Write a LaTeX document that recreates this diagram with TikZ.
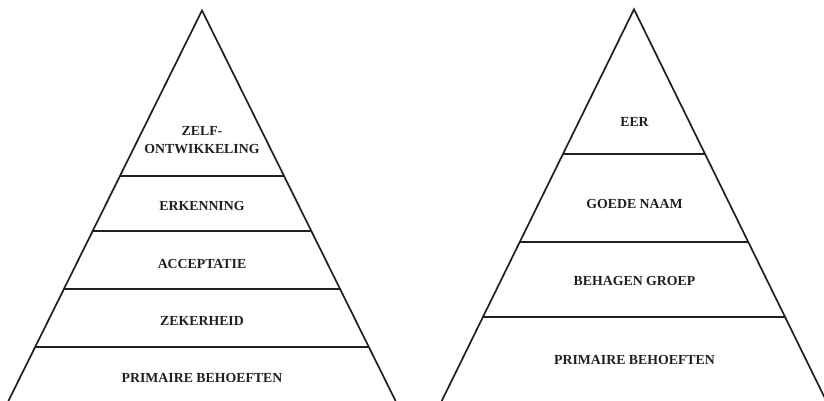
\documentclass[tikz,border=0pt]{standalone}
\usepackage{fontspec}
\setmainfont{Liberation Serif}
\usetikzlibrary{calc}
\definecolor{ink}{HTML}{231F20}
\tikzset{
  side/.style={draw=ink, line width=1.7pt, line join=miter},
  divider/.style={draw=ink, line width=1.9pt},
  lbl/.style={anchor=base, inner sep=0pt, text=ink, font=\fontsize{13.8}{18.3}\selectfont\bfseries, align=center}
}
\begin{document}
\begin{tikzpicture}[x=1pt,y=-1pt]
\useasboundingbox (0,0) rectangle (824,401);
% left pyramid
\coordinate (LA) at (202,10.5);
\coordinate (LBL) at (8.4,401);
\coordinate (LBR) at (395.6,401);
\draw[side] (LBL) -- (LA) -- (LBR);
\foreach \n/\yy in {1/176,2/231,3/289,4/347.3}{
  \coordinate (Ll\n) at ($(LA)!{(\yy-10.5)/390.5}!(LBL)$);
  \coordinate (Lr\n) at ($(LA)!{(\yy-10.5)/390.5}!(LBR)$);
}
\draw[divider] (Ll1) -- (Lr1);
\draw[divider] (Ll2) -- (Lr2);
\draw[divider] (Ll3) -- (Lr3);
\draw[divider] (Ll4) -- (Lr4);
\node[lbl] (zelf) at (202,153.6) {ZELF-\\ONTWIKKELING};
\node[lbl] (erk) at (202,210.5) {ERKENNING};
\node[lbl] (acc) at (202,268.4) {ACCEPTATIE};
\node[lbl] (zek) at (202,325.4) {ZEKERHEID};
\node[lbl] (prl) at (202,382.4) {PRIMAIRE BEHOEFTEN};
% right pyramid
\coordinate (RA) at (634,9.3);
\coordinate (RBL) at (441.7,401);
\coordinate (RBR) at (826.3,401);
\draw[side] (RBL) -- (RA) -- (RBR);
\foreach \n/\yy in {1/154.3,2/241.7,3/316.7}{
  \coordinate (Rl\n) at ($(RA)!{(\yy-9.3)/391.7}!(RBL)$);
  \coordinate (Rr\n) at ($(RA)!{(\yy-9.3)/391.7}!(RBR)$);
}
\draw[divider] (Rl1) -- (Rr1);
\draw[divider] (Rl2) -- (Rr2);
\draw[divider] (Rl3) -- (Rr3);
\node[lbl] (eer) at (634.5,126.4) {EER};
\node[lbl] (goede) at (634.5,208) {GOEDE NAAM};
\node[lbl] (beh) at (634.5,285.7) {BEHAGEN GROEP};
\node[lbl] (prr) at (634.5,364.7) {PRIMAIRE BEHOEFTEN};
\end{tikzpicture}
\end{document}
